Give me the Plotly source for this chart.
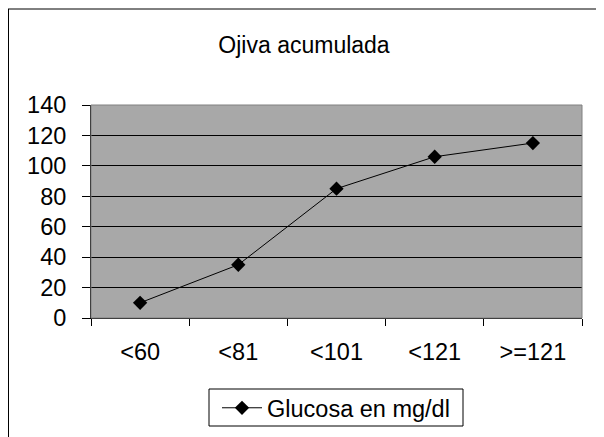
import plotly.graph_objects as go

categories = ["<60", "<81", "<101", "<121", ">=121"]
values = [10, 35, 85, 106, 115]
series_name = "Glucosa en mg/dl"
title_text = "Ojiva acumulada"
y_ticks = [0, 20, 40, 60, 80, 100, 120, 140]

FONT = "Liberation Sans, Arial, sans-serif"

# page is offset by the body margin (8px); work in figure coordinates
W, H = 596, 429
L, R, T, B = 83, 22, 97, 119
PW, PH = W - L - R, H - T - B


def px(xf):
    return (xf - L) / PW


def py(yf):
    return (T + PH - yf) / PH


fig = go.Figure()
fig.add_trace(go.Scatter(
    x=categories, y=values, mode="lines+markers", name=series_name,
    line=dict(color="black", width=1),
    marker=dict(symbol="diamond", size=11, color="black"),
    showlegend=True,
))

fig.update_layout(
    width=W, height=H,
    margin=dict(l=L, r=R, t=T, b=B, autoexpand=False),
    paper_bgcolor="white",
    plot_bgcolor="#a8a8a8",
    font=dict(family=FONT, size=23.5, color="black"),
    title=dict(text=title_text, x=296 / W, xref="container", xanchor="center",
               y=1 - 37 / H, yref="container", yanchor="middle",
               font=dict(size=23, family=FONT, color="black")),
    showlegend=True,
    legend=dict(x=px(328), xanchor="center", y=py(400), yanchor="middle",
                orientation="h", borderwidth=0,
                bgcolor="rgba(0,0,0,0)", font=dict(size=23.5, family=FONT),
                itemwidth=40),
    xaxis=dict(type="category", range=[-0.5, len(categories) - 0.5],
               tickson="boundaries", ticks="outside",
               ticklen=7, tickcolor="black", showline=True, linecolor="black",
               linewidth=1, showgrid=False, ticklabelstandoff=13,
               tickfont=dict(size=23.5)),
    yaxis=dict(range=[0, 140], tickvals=y_ticks, ticks="outside", ticklen=8,
               tickcolor="black", showline=True, linecolor="black", linewidth=1,
               showgrid=True, gridcolor="black", gridwidth=1, zeroline=False,
               ticklabelstandoff=11, tickfont=dict(size=23.5)),
    shapes=[
        dict(type="rect", xref="paper", yref="paper", x0=0, x1=1, y0=0, y1=1,
             line=dict(color="#808080", width=1), layer="above"),
        dict(type="rect", xref="paper", yref="paper",
             x0=px(201), x1=px(455), y0=py(381), y1=py(418),
             line=dict(color="black", width=1), fillcolor="white", layer="below"),
        dict(type="line", xref="paper", yref="paper",
             x0=px(0), x1=px(0), y0=py(1), y1=py(H + 20),
             line=dict(color="black", width=2)),
        dict(type="line", xref="paper", yref="paper",
             x0=px(0), x1=px(W + 20), y0=py(1), y1=py(1),
             line=dict(color="black", width=1)),
    ],
)

fig.write_html("out.html")
